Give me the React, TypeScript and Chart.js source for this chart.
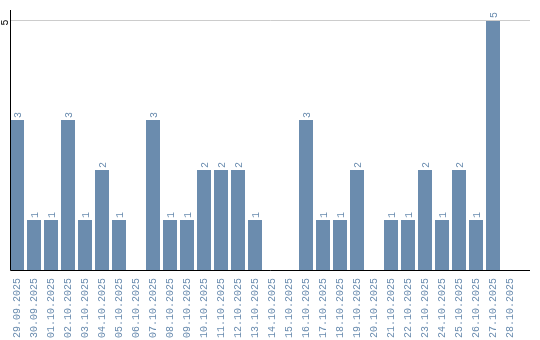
import React, { useEffect, useRef } from "react";
import { Chart, registerables } from "chart.js";

Chart.register(...registerables);

const categories = [
  "29.09.2025", "30.09.2025", "01.10.2025", "02.10.2025", "03.10.2025",
  "04.10.2025", "05.10.2025", "06.10.2025", "07.10.2025", "08.10.2025",
  "09.10.2025", "10.10.2025", "11.10.2025", "12.10.2025", "13.10.2025",
  "14.10.2025", "15.10.2025", "16.10.2025", "17.10.2025", "18.10.2025",
  "19.10.2025", "20.10.2025", "21.10.2025", "22.10.2025", "23.10.2025",
  "24.10.2025", "25.10.2025", "26.10.2025", "27.10.2025", "28.10.2025",
];
const values = [3, 1, 1, 3, 1, 2, 1, 0, 3, 1, 1, 2, 2, 2, 1, 0, 0, 3, 1, 1, 2, 0, 1, 1, 2, 1, 2, 1, 5, 0];
const yTicks = [5];

const FONT = "Liberation Mono";
const BAR = "#6b8cae";
const LABEL = "#6a8caf";

const decor = {
  id: "decor",
  afterDatasetsDraw(chart: any) {
    const { ctx, chartArea, scales } = chart;
    const y = scales.y;
    const left = Math.round(chartArea.left + 1.5) + 0.5;
    const right = chartArea.right + 11.5;
    ctx.save();
    ctx.lineWidth = 1;
    ctx.strokeStyle = "#cccccc";
    yTicks.forEach((t) => {
      const py = Math.round(y.getPixelForValue(t)) + 0.5;
      ctx.beginPath();
      ctx.moveTo(left, py);
      ctx.lineTo(right, py);
      ctx.stroke();
    });
    const bottom = Math.round(y.getPixelForValue(0)) + 0.5;
    ctx.strokeStyle = "#000000";
    ctx.beginPath();
    ctx.moveTo(left, chartArea.top);
    ctx.lineTo(left, bottom);
    ctx.lineTo(right, bottom);
    ctx.stroke();
    ctx.font = `10px "${FONT}"`;
    ctx.fillStyle = "#000000";
    yTicks.forEach((t) => {
      const py = y.getPixelForValue(t);
      ctx.save();
      ctx.translate(left - 3, py + 2.5);
      ctx.rotate(-Math.PI / 2);
      ctx.textAlign = "center";
      ctx.textBaseline = "alphabetic";
      ctx.fillText(String(t), 0, 0);
      ctx.restore();
    });
    const meta = chart.getDatasetMeta(0);
    ctx.fillStyle = LABEL;
    meta.data.forEach((bar: any, i: number) => {
      const v = values[i];
      if (!v) return;
      ctx.save();
      ctx.translate(bar.x + 3.5, bar.y - 2);
      ctx.rotate(-Math.PI / 2);
      ctx.textAlign = "left";
      ctx.textBaseline = "alphabetic";
      ctx.fillText(String(v), 0, 0);
      ctx.restore();
    });
    ctx.restore();
  },
};

export default function App() {
  const ref = useRef<HTMLCanvasElement | null>(null);
  useEffect(() => {
    if (!ref.current) return;
    const chart = new Chart(ref.current, {
      type: "bar",
      data: {
        labels: categories,
        datasets: [
          {
            data: values,
            backgroundColor: BAR,
            borderWidth: 0,
            barPercentage: 14 / 17,
            categoryPercentage: 1,
          },
        ],
      },
      options: {
        animation: false,
        responsive: false,
        maintainAspectRatio: false,
        layout: { padding: { left: 8.5, top: 10, right: 21.5, bottom: 0 } },
        plugins: { legend: { display: false }, tooltip: { enabled: false } },
        scales: {
          x: {
            grid: { display: false, drawTicks: false },
            border: { display: false },
            afterFit(scale: any) {
              scale.height = 70;
            },
            ticks: {
              color: LABEL,
              font: { family: FONT, size: 10 },
              minRotation: 90,
              maxRotation: 90,
              autoSkip: false,
              padding: 8,
            },
          },
          y: { display: false, min: 0, max: 5.2 },
        },
      },
      plugins: [decor],
    });
    return () => chart.destroy();
  }, []);
  return (
    <div style={{ position: "fixed", left: 0, top: 0, width: 540, height: 340, background: "#fff" }}>
      <canvas ref={ref} width={540} height={340} style={{ width: 540, height: 340 }} />
    </div>
  );
}
